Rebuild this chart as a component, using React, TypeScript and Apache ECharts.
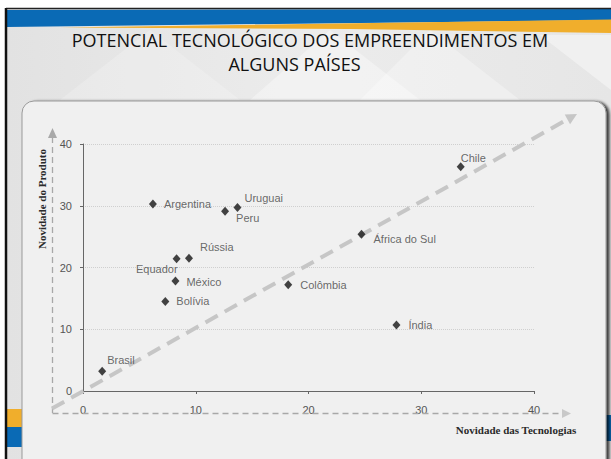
import React, { useEffect, useRef } from "react";
import * as echarts from "echarts";

const countries = ["Brasil", "Argentina", "Peru", "Uruguai", "Equador", "Rússia", "México", "Bolívia", "Colômbia", "África do Sul", "Índia", "Chile"];
const techNovelty = [1.7, 6.2, 12.6, 13.7, 8.3, 9.4, 8.2, 7.3, 18.2, 24.7, 27.8, 33.5];
const productNovelty = [3.2, 30.3, 29.1, 29.7, 21.4, 21.5, 17.8, 14.5, 17.2, 25.4, 10.7, 36.3];
const axisTicks = [0, 10, 20, 30, 40];

const titleLines = ["POTENCIAL TECNOLÓGICO DOS EMPREENDIMENTOS EM", "ALGUNS PAÍSES"];
const xAxisTitle = "Novidade das Tecnologias";
const yAxisTitle = "Novidade do Produto";

// label placement (style only): [align, dx, dy]
const labelPlacement: Record<string, [string, number, number]> = {
  "Brasil": ["left", 5, -11],
  "Argentina": ["left", 11, 0],
  "Peru": ["left", 11, 7],
  "Uruguai": ["left", 7, -10],
  "Equador": ["right", 1, 10],
  "Rússia": ["left", 11, -11],
  "México": ["left", 11, 1],
  "Bolívia": ["left", 11, 0],
  "Colômbia": ["left", 12, 0],
  "África do Sul": ["left", 12, 5],
  "Índia": ["left", 12, 0],
  "Chile": ["left", 0, -9],
};

export default function App() {
  const ref = useRef<HTMLDivElement>(null);
  useEffect(() => {
    if (!ref.current) return;
    const chart = echarts.init(ref.current, null, { renderer: "svg" });
    const data = countries.map((name, i) => {
      const [align, dx, dy] = labelPlacement[name];
      return {
        name,
        value: [techNovelty[i], productNovelty[i]],
        label: { align, offset: [dx, dy] },
      };
    });
    const dashGray = "#a8a8a8";
    const diagDir = [0.873, -0.489];
    const tip = [577, 114];
    const bc = [tip[0] - 11 * diagDir[0], tip[1] - 11 * diagDir[1]];
    const perp = [0.489, 0.873];
    chart.setOption({
      animation: false,
      backgroundColor: "#ffffff",
      graphic: [
        // slide background
        { type: "rect", z: -20, shape: { x: 7, y: 9, width: 604, height: 450 },
          style: { fill: new echarts.graphic.LinearGradient(0, 0, 1, 0, [
            { offset: 0, color: "#e2e2e2" }, { offset: 0.5, color: "#ececec" }, { offset: 1, color: "#e6e6e6" }]) } },
        { type: "polygon", z: -19, shape: { points: [[330, 30], [420, 100], [250, 100]] }, style: { fill: "rgba(255,255,255,0.35)" } },
        { type: "polygon", z: -19, shape: { points: [[430, 30], [520, 100], [360, 100]] }, style: { fill: "rgba(255,255,255,0.3)" } },
        { type: "polygon", z: -19, shape: { points: [[540, 35], [611, 90], [611, 35]] }, style: { fill: "rgba(255,255,255,0.4)" } },
        { type: "polygon", z: -19, shape: { points: [[150, 30], [240, 100], [60, 100]] }, style: { fill: "rgba(255,255,255,0.2)" } },
        // top bands
        { type: "polygon", z: -18, shape: { points: [[7, 10], [611, 9], [611, 20], [7, 27]] }, style: { fill: "#0a6ab5" } },
        { type: "polygon", z: -18, shape: { points: [[60, 27.5], [611, 19.5], [611, 33], [350, 29]] }, style: { fill: "#f0ae2c" } },
        // frame lines
        { type: "line", z: -17, shape: { x1: 6, y1: 8.5, x2: 611, y2: 8.5 }, style: { stroke: "#222", lineWidth: 1.5 } },
        { type: "line", z: -17, shape: { x1: 6, y1: 8, x2: 6, y2: 459 }, style: { stroke: "#111", lineWidth: 2.5 } },
        // bottom-left bands
        { type: "rect", z: -18, shape: { x: 7, y: 409, width: 16, height: 18 }, style: { fill: "#f0ae2c" } },
        { type: "rect", z: -18, shape: { x: 7, y: 427, width: 16, height: 20 }, style: { fill: "#0a6ab5" } },
        { type: "rect", z: -18, shape: { x: 600, y: 415, width: 11, height: 26 }, style: { fill: "#0a6ab5" } },
        // panel
        { type: "rect", z: -16, shape: { x: 22, y: 101, width: 584, height: 372, r: 12 },
          style: { fill: "#f0f0f0", stroke: "#9a9a9a", lineWidth: 1, shadowBlur: 3, shadowOffsetX: 3, shadowOffsetY: 1, shadowColor: "rgba(0,0,0,0.75)" } },
        // title
        { type: "text", z: 5, x: 310, y: 49, scaleX: 1.03, style: { text: titleLines[0], font: '17.5px "Open Sans"', fill: "#111", align: "center", verticalAlign: "bottom" } },
        { type: "text", z: 5, x: 294.5, y: 73.5, scaleX: 1.03, style: { text: titleLines[1], font: '17.5px "Open Sans"', fill: "#111", align: "center", verticalAlign: "bottom" } },
        // dashed outer axes
        { type: "line", z: 1, shape: { x1: 52.5, y1: 137, x2: 52.5, y2: 413.5 }, style: { stroke: dashGray, lineWidth: 1.3, lineDash: [6, 4] } },
        { type: "polygon", z: 1, shape: { points: [[52.5, 128], [48, 138], [57, 138]] }, style: { fill: dashGray } },
        { type: "line", z: 1, shape: { x1: 52.5, y1: 413.5, x2: 562, y2: 413.5 }, style: { stroke: dashGray, lineWidth: 1.3, lineDash: [6, 4] } },
        { type: "polygon", z: 1, shape: { points: [[571, 413.5], [562, 409], [562, 418]] }, style: { fill: "#c8c8c8" } },
        // diagonal trend
        { type: "line", z: 1, shape: { x1: 52, y1: 408.5, x2: bc[0], y2: bc[1] }, style: { stroke: "#c6c6c6", lineWidth: 4, lineDash: [14, 8] } },
        { type: "polygon", z: 1, shape: { points: [tip, [bc[0] + 5.5 * perp[0], bc[1] + 5.5 * perp[1]], [bc[0] - 5.5 * perp[0], bc[1] - 5.5 * perp[1]]] }, style: { fill: "#c6c6c6" } },
        // axis titles
        { type: "text", z: 5, x: 516, y: 430, style: { text: xAxisTitle, font: 'bold 11px "Liberation Serif"', fill: "#2a2a2a", align: "center", verticalAlign: "middle" } },
        { type: "text", z: 5, x: 42, y: 199, rotation: Math.PI / 2, style: { text: yAxisTitle, font: 'bold 11px "Liberation Serif"', fill: "#2a2a2a", align: "center", verticalAlign: "middle" } },
      ],
      grid: { left: 83, right: 77, top: 144, bottom: 68, containLabel: false },
      xAxis: {
        type: "value", min: axisTicks[0], max: axisTicks[axisTicks.length - 1], interval: 10,
        axisLine: { show: true, lineStyle: { color: "#666", width: 1 } },
        axisTick: { show: true, length: 3, lineStyle: { color: "#666" } },
        axisLabel: { margin: 13, color: "#555", fontSize: 11, fontFamily: '"Liberation Sans", Arial' },
        splitLine: { show: false },
      },
      yAxis: {
        type: "value", min: axisTicks[0], max: axisTicks[axisTicks.length - 1], interval: 10,
        axisLine: { show: true, lineStyle: { color: "#666", width: 1 } },
        axisTick: { show: true, length: 3, lineStyle: { color: "#666" } },
        axisLabel: { margin: 11, color: "#555", fontSize: 11, fontFamily: '"Liberation Sans", Arial' },
        splitLine: { show: true, lineStyle: { color: "#cfcfcf", type: "dotted", width: 1 } },
      },
      series: [{
        type: "scatter",
        symbol: "diamond",
        symbolSize: [8, 9],
        itemStyle: { color: "#151515" },
        z: 3,
        label: {
          show: true, position: "inside", formatter: "{b}", verticalAlign: "middle",
          color: "#444", fontSize: 11, fontFamily: '"Liberation Sans", Arial',
        },
        data,
      }],
    });
    return () => chart.dispose();
  }, []);
  return <div ref={ref} style={{ position: "absolute", left: 0, top: 0, width: 611, height: 459 }} />;
}
